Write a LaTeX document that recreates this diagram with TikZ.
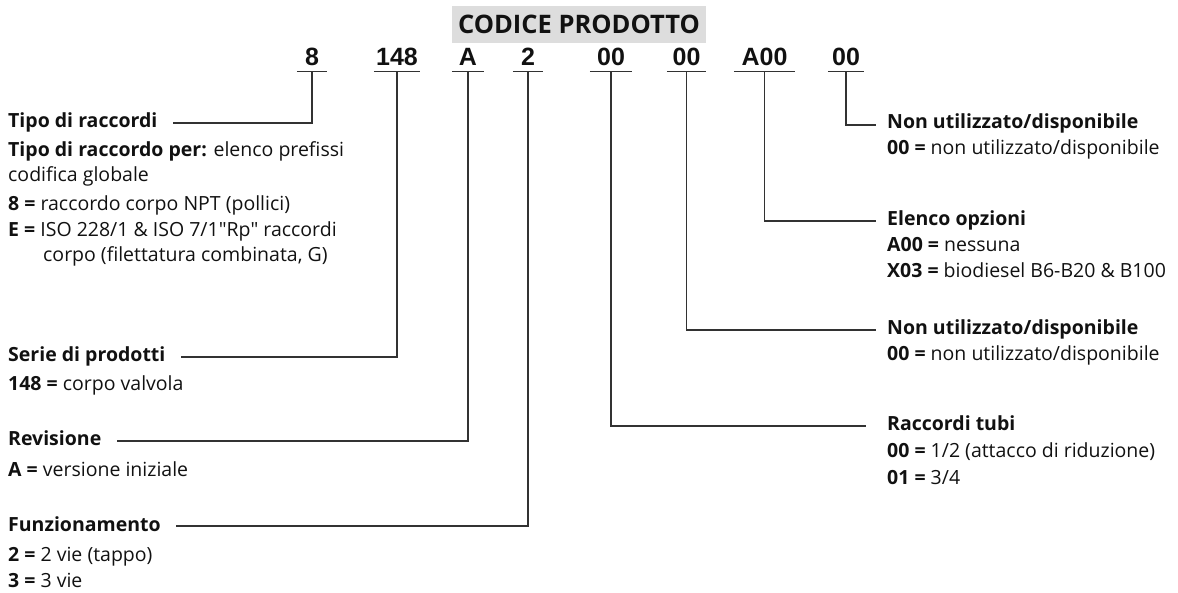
\documentclass[tikz,border=0pt]{standalone}
\usepackage{fontspec}
\setmainfont{Open Sans}
\newfontfamily\rawfont{Open Sans}
\newfontfamily\codefont{Liberation Sans}
\definecolor{boxgray}{RGB}{221,221,221}
\definecolor{linegray}{RGB}{50,50,50}
\definecolor{txtcol}{RGB}{17,17,17}
\newcommand{\dq}{{\rawfont\char34}}
\begin{document}
\begin{tikzpicture}[x=1pt,y=-1pt,
  txt/.style={inner sep=0pt, anchor=base west, text=txtcol, font=\fontsize{19.5}{23}\selectfont},
  hd/.style={txt, font=\fontsize{19.5}{23}\selectfont\bfseries},
  codebox/.style={anchor=base, inner xsep=0pt, inner ysep=5pt, text depth=0pt, text=txtcol,
    font=\codefont\fontsize{25}{30}\selectfont\bfseries},
  conn/.style={draw=linegray, line width=1.1pt},
  title/.style={fill=boxgray, text=txtcol, font=\fontsize{25.5}{30}\selectfont\bfseries,
    minimum width=254pt, minimum height=37pt, inner sep=0pt}
]
\useasboundingbox (0,0) rectangle (1178,593);

% title
\node[title] (title) at (579,24.5) {CODICE PRODOTTO};

% code segments
\node[codebox, minimum width=30pt] (c1) at (312,66) {8};
\node[codebox, minimum width=46pt] (c2) at (397,66) {148};
\node[codebox, minimum width=32pt] (c3) at (468,66) {A};
\node[codebox, minimum width=30pt] (c4) at (528,66) {2};
\node[codebox, minimum width=42pt] (c5) at (611,66) {00};
\node[codebox, minimum width=39pt] (c6) at (686.5,66) {00};
\node[codebox, minimum width=61pt] (c7) at (764.5,66) {A00};
\node[codebox, minimum width=36pt] (c8) at (846,66) {00};
\foreach \n in {c1,c2,c3,c4,c5,c6,c7,c8}
  \draw[conn] (\n.south west) -- (\n.south east);

% left labels
\node[hd] (h1) at (8,128) {Tipo di raccordi};
\node[txt] (t1a) at (8,157) {\textbf{Tipo di raccordo per:} elenco prefissi};
\node[txt] (t1b) at (8,182) {codifica globale};
\node[txt] (t1c) at (8,211) {\textbf{8 =} raccordo corpo NPT (pollici)};
\node[txt] (t1d) at (8,237) {\textbf{E =} ISO 228/1 \& ISO 7/1\dq Rp\dq\ raccordi};
\node[txt] (t1e) at (43,262) {corpo (filettatura combinata, G)};

\node[hd] (h2) at (8,362) {Serie di prodotti};
\node[txt] (t2a) at (8,391) {\textbf{148 =} corpo valvola};

\node[hd] (h3) at (8,446) {Revisione};
\node[txt] (t3a) at (8,476) {\textbf{A =} versione iniziale};

\node[hd] (h4) at (8,531) {Funzionamento};
\node[txt] (t4a) at (8,561) {\textbf{2 =} 2 vie (tappo)};
\node[txt] (t4b) at (8,587) {\textbf{3 =} 3 vie};

% right labels
\node[hd] (r1) at (887,129) {Non utilizzato/disponibile};
\node[txt] (s1a) at (887,155) {\textbf{00 =} non utilizzato/disponibile};

\node[hd] (r2) at (887,226) {Elenco opzioni};
\node[txt] (s2a) at (887,252) {\textbf{A00 =} nessuna};
\node[txt] (s2b) at (887,278) {\textbf{X03 =} biodiesel B6-B20 \& B100};

\node[hd] (r3) at (887,335) {Non utilizzato/disponibile};
\node[txt] (s3a) at (887,361) {\textbf{00 =} non utilizzato/disponibile};

\node[hd] (r4) at (887,431) {Raccordi tubi};
\node[txt] (s4a) at (887,457) {\textbf{00 =} 1/2 (attacco di riduzione)};
\node[txt] (s4b) at (887,484) {\textbf{01 =} 3/4};

% connectors
\draw[conn] (c1.south) |- ([xshift=15pt,yshift=5pt]h1.base east);
\draw[conn] (c2.south) |- ([xshift=15pt,yshift=5pt]h2.base east);
\draw[conn] (c3.south) |- ([xshift=15pt,yshift=5pt]h3.base east);
\draw[conn] (c4.south) |- ([xshift=15pt,yshift=5pt]h4.base east);
\draw[conn] (c5.south) |- ([xshift=-21pt,yshift=5pt]r4.base west);
\draw[conn] (c6.south) |- ([xshift=-11pt,yshift=5pt]r3.base west);
\draw[conn] (c7.south) |- ([xshift=-11pt,yshift=5pt]r2.base west);
\draw[conn] (c8.south) |- ([xshift=-11pt,yshift=4pt]r1.base west);
\end{tikzpicture}
\end{document}
